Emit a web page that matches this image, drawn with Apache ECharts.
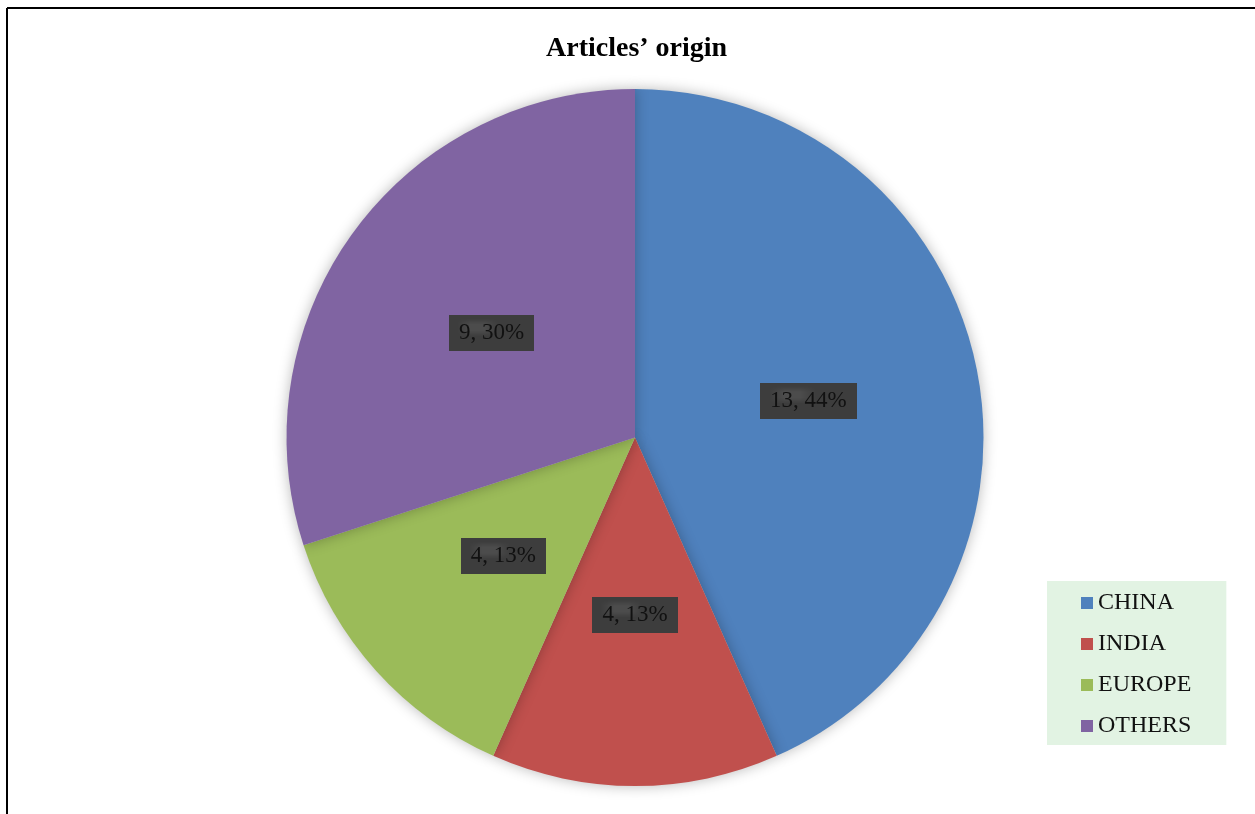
<!DOCTYPE html>
<html>
<head>
<meta charset="utf-8">
<script src="https://cdn.jsdelivr.net/npm/echarts@6/dist/echarts.min.js"></script>
<style>
html,body{margin:0;padding:0;background:#fff;}
#chart{width:1255px;height:814px;}
</style>
</head>
<body>
<div id="chart"></div>
<script>
const categories = ['CHINA', 'INDIA', 'EUROPE', 'OTHERS'];
const values = [13, 4, 4, 9];
const percentLabels = ['44%', '13%', '13%', '30%'];
const colors = ['#4F81BD', '#C0504D', '#9BBB59', '#8064A2'];

// dotted dark pattern for label boxes
const pat = document.createElement('canvas');
pat.width = 6; pat.height = 6;
const pc = pat.getContext('2d');
pc.fillStyle = '#3d3d3d';
pc.fillRect(0, 0, 6, 6);
pc.fillStyle = '#4c4c4c';
pc.fillRect(1, 1, 2, 2);

const chart = echarts.init(document.getElementById('chart'), null, {renderer: 'canvas'});
const data = categories.map((c, i) => ({name: c, value: values[i], itemStyle: {color: colors[i]}}));

chart.setOption({
  backgroundColor: '#fff',
  animation: false,
  title: {
    text: 'Articles’ origin',
    left: 541,
    top: 30,
    textStyle: {fontFamily: 'Liberation Serif', fontWeight: 'bold', fontSize: 28, color: '#000'}
  },
  legend: {
    orient: 'vertical',
    left: 1047,
    top: 581,
    padding: [10, 35, 7, 34],
    backgroundColor: '#E2F3E3',
    icon: 'rect',
    itemWidth: 12,
    itemHeight: 12,
    itemGap: 17,
    data: categories,
    textStyle: {fontFamily: 'Liberation Serif', fontSize: 24, color: '#111', lineHeight: 24}
  },
  graphic: [
    {type: 'line', shape: {x1: 7, y1: 8, x2: 1255, y2: 8}, style: {stroke: '#000', lineWidth: 2}, z: 100},
    {type: 'line', shape: {x1: 7, y1: 8, x2: 7, y2: 814}, style: {stroke: '#000', lineWidth: 2}, z: 100}
  ],
  series: [{
    type: 'pie',
    center: [635, 437.5],
    radius: [0, 348.5],
    startAngle: 90,
    clockwise: true,
    data: data,
    itemStyle: {shadowBlur: 14, shadowColor: 'rgba(0,0,0,0.28)', borderWidth: 0},
    emphasis: {disabled: true},
    label: {
      position: 'inside',
      formatter: p => p.value + ', ' + percentLabels[p.dataIndex],
      fontFamily: 'Liberation Serif',
      fontSize: 23,
      color: '#111',
      lineHeight: 24,
      padding: [6, 10, 6, 10],
      backgroundColor: {image: pat, repeat: 'repeat'},
      shadowColor: 'rgba(0,0,0,0.6)',
      shadowBlur: 4,
      shadowOffsetX: 4,
      shadowOffsetY: 4
    },
    labelLine: {show: false}
  }]
});
</script>
</body>
</html>
